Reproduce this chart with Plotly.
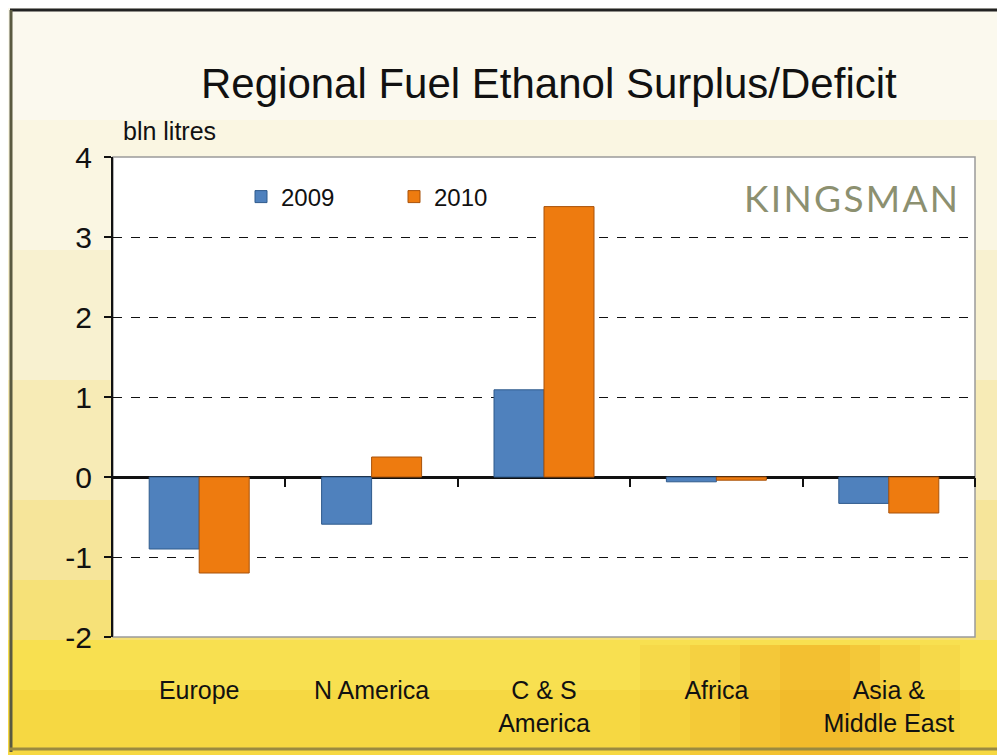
import plotly.graph_objects as go

categories = ["Europe", "N America", "C & S<br>America", "Africa", "Asia &<br>Middle East"]
values_2009 = [-0.90, -0.59, 1.09, -0.06, -0.33]
values_2010 = [-1.20, 0.25, 3.38, -0.04, -0.45]
series_names = ["2009", "2010"]
y_ticks = [-2, -1, 0, 1, 2, 3, 4]
y_tick_text = ["-2", "-1", "0", "1", "2", "3", "4"]

OFF = 8  # page body margin
W, H = 1005 - OFF, 755 - OFF
L, R, T, B = 113 - OFF, 975 - OFF, 157 - OFF, 637 - OFF

def px(x):
    # x given in screen pixels
    return (x - OFF - L) / (R - L)

def py(y):
    return (B - (y - OFF)) / (B - T)

FONT = "Liberation Sans, Arial, sans-serif"

fig = go.Figure()
fig.add_trace(go.Bar(x=categories, y=values_2009, name=series_names[0],
                     marker=dict(color="#4F81BD", line=dict(color="#2F5A8C", width=1))))
fig.add_trace(go.Bar(x=categories, y=values_2010, name=series_names[1],
                     marker=dict(color="#EE7B0F", line=dict(color="#A8520A", width=1))))
# invisible helper trace for the boundary ticks on the zero line
fig.add_trace(go.Scatter(x=[0], y=[0], xaxis="x2", mode="markers",
                         marker=dict(opacity=0), showlegend=False, hoverinfo="skip"))

shapes = []
bands = [
    (0, 120, "#FBF9EE"), (120, 250, "#FAF6E2"), (250, 380, "#F8F1D0"),
    (380, 500, "#F7EBB6"), (500, 580, "#F6E59A"), (580, 640, "#F6E178"),
    (640, 690, "#F8E050"), (690, 760, "#F6D842"),
]
for y0, y1, c in bands:
    shapes.append(dict(type="rect", xref="paper", yref="paper", layer="below",
                       x0=px(0), x1=px(1010), y0=py(y1), y1=py(y0),
                       fillcolor=c, line=dict(width=0)))
# soft orange glow bottom right
for x0, x1, op in [(640, 960, 0.10), (690, 920, 0.13), (740, 880, 0.16), (780, 850, 0.18)]:
    shapes.append(dict(type="rect", xref="paper", yref="paper", layer="below",
                       x0=px(x0), x1=px(x1), y0=py(760), y1=py(645),
                       fillcolor="#F09A10", opacity=op, line=dict(width=0)))
# white plot area
shapes.append(dict(type="rect", xref="paper", yref="paper", layer="below",
                   x0=0, x1=1, y0=0, y1=1, fillcolor="white",
                   line=dict(color="#9A9A9A", width=1.5)))
# outer frame edges (top, left, bottom)
shapes.append(dict(type="line", xref="paper", yref="paper",
                   x0=px(10), x1=px(1012), y0=py(10), y1=py(10),
                   line=dict(color="#222222", width=3)))
shapes.append(dict(type="line", xref="paper", yref="paper",
                   x0=px(11), x1=px(11), y0=py(10), y1=py(752),
                   line=dict(color="#5A5A40", width=3)))
shapes.append(dict(type="line", xref="paper", yref="paper",
                   x0=px(10), x1=px(1012), y0=py(749), y1=py(749),
                   line=dict(color="#9A8A40", width=3)))

annotations = [
    dict(text="Regional Fuel Ethanol Surplus/Deficit", xref="paper", yref="paper",
         x=px(549), y=py(83), showarrow=False, xanchor="center", yanchor="middle",
         font=dict(family=FONT, size=42, color="#111")),
    dict(text="bln litres", xref="paper", yref="paper",
         x=px(121), y=py(131), showarrow=False, xanchor="left", yanchor="middle",
         font=dict(family=FONT, size=25, color="#111")),
    dict(text="K\u200aI\u200aN\u200aG\u200aS\u200aM\u200aA\u200aN", xref="paper", yref="paper",
         x=px(960), y=py(197), showarrow=False, xanchor="right", yanchor="middle",
         font=dict(family="Lato, sans-serif", size=37, color="#8C9070")),
]

fig.update_layout(
    width=W, height=H,
    margin=dict(l=L, r=W - R, t=T, b=H - B, pad=0),
    paper_bgcolor="#F6E9B0", plot_bgcolor="rgba(0,0,0,0)",
    barmode="group", bargap=0.42, bargroupgap=0,
    shapes=shapes, annotations=annotations,
    showlegend=True,
    legend=dict(orientation="h", x=px(241), y=py(197), xanchor="left", yanchor="middle",
                bgcolor="rgba(0,0,0,0)", font=dict(family=FONT, size=24, color="#111"),
                entrywidth=108, entrywidthmode="pixels", traceorder="normal",
                itemwidth=30),
    xaxis=dict(type="category", showline=False, showgrid=False, ticks="",
               tickfont=dict(family=FONT, size=25, color="#111"),
               ticklabelstandoff=36),
    xaxis2=dict(overlaying="x", anchor="free", position=1/3, range=[-0.5, 4.5],
                tickvals=[0.5, 1.5, 2.5, 3.5, 4.5], ticks="outside", ticklen=9, tickwidth=2,
                tickcolor="#111", showticklabels=False, showline=False, showgrid=False,
                zeroline=False, side="bottom"),
    yaxis=dict(range=[-2, 4], tickvals=y_ticks, ticktext=y_tick_text,
               showgrid=True, gridcolor="#111",
               griddash="dash", gridwidth=1.3, zeroline=True, zerolinecolor="#111",
               zerolinewidth=2.5, showline=True, linecolor="#111", linewidth=2,
               ticks="outside", ticklen=7, tickwidth=2, tickcolor="#111",
               tickfont=dict(family=FONT, size=30, color="#111"),
               ticklabelstandoff=6),
)

fig.write_html("out.html")
